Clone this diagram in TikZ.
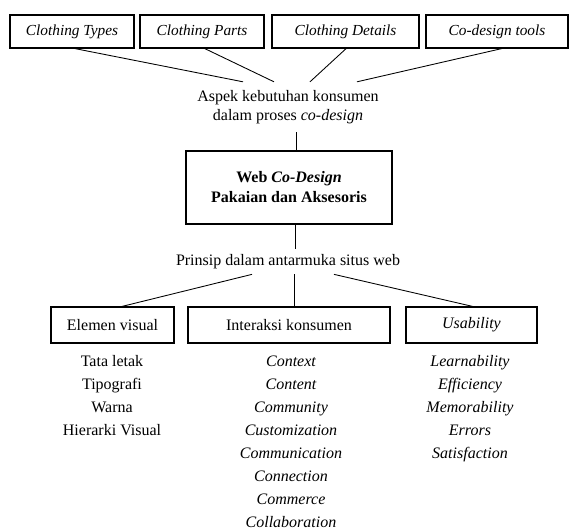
\documentclass[tikz,border=0pt]{standalone}
\usepackage{fontspec}
\setmainfont{Liberation Serif}
\usepackage{tikz}
\usetikzlibrary{positioning,calc}
\tikzset{
  box/.style={draw, line width=0.8pt, align=center, minimum height=24.75pt, inner sep=2pt, font=\fontsize{11.5}{12}\selectfont\itshape},
  sbox/.style={draw, line width=0.8pt, align=center, minimum height=27pt, inner sep=2pt, font=\fontsize{12}{12}\selectfont},
  main/.style={draw, line width=1.4pt, align=center, minimum width=154.5pt, minimum height=54.75pt, font=\fontsize{12}{15}\selectfont\bfseries},
  lbl/.style={align=center, inner sep=4pt, font=\fontsize{12}{14.5}\selectfont},
  lst/.style={align=center, inner sep=0pt, font=\fontsize{12}{17.25}\selectfont},
  ln/.style={line width=0.65pt}
}
\begin{document}
\begin{tikzpicture}[x=0.75pt, y=-0.75pt]
  \useasboundingbox (0,0) rectangle (569,531);
  % top row
  \node[box, minimum width=93pt] (types) at (72,31.5) {Clothing Types};
  \node[box, minimum width=93pt] (parts) at (202,31.5) {Clothing Parts};
  \node[box, minimum width=110.25pt] (details) at (345.5,31.5) {Clothing Details};
  \node[box, minimum width=106.5pt] (tools) at (497,31.5) {Co-design tools};
  \node[lbl, inner ysep=6pt] (aspek) at (288,107) {Aspek kebutuhan konsumen\\dalam proses \textit{co-design}};
  \draw[ln] ([xshift=2pt]types.south) -- ([xshift=-33.75pt]aspek.north);
  \draw[ln] ([xshift=2pt]parts.south) -- ([xshift=-10.5pt]aspek.north);
  \draw[ln] ([xshift=0.5pt]details.south) -- ([xshift=16.5pt]aspek.north);
  \draw[ln] ([xshift=3.75pt]tools.south) -- ([xshift=51.75pt]aspek.north);
  % centre
  \node[main] (web) at (289,187.5) {Web \textit{Co-Design}\\Pakaian dan Aksesoris};
  \draw[ln] ([xshift=6pt]aspek.south) -- ([xshift=6pt]aspek.south |- web.north);
  \node[lbl] (prinsip) at (288,261.5) {Prinsip dalam antarmuka situs web};
  \draw[ln] ([xshift=4.5pt]web.south) -- ([xshift=4.5pt]web.south |- prinsip.north);
  % bottom row
  \node[sbox, minimum width=92.25pt] (elemen) at (112.5,325) {Elemen visual};
  \node[sbox, minimum width=151.5pt] (interaksi) at (289,325) {Interaksi konsumen};
  \node[sbox, minimum width=98.25pt] (usab) at (471.5,325) {\textit{Usability}};
  \draw[ln] ([xshift=-27pt]prinsip.south) -- ([xshift=7pt]elemen.north);
  \draw[ln] ([xshift=5pt]prinsip.south) -- ([xshift=5pt]prinsip.south |- interaksi.north);
  \draw[ln] ([xshift=34.5pt]prinsip.south) -- ([xshift=1pt]usab.north);
  % lists
  \node[lst, anchor=north] (elist) at (112,355) {Tata letak\\Tipografi\\Warna\\Hierarki Visual};
  \node[lst, anchor=north, font=\fontsize{12}{17.25}\selectfont\itshape] (ilist) at (291,356) {Context\\Content\\Community\\Customization\\Communication\\Connection\\Commerce\\Collaboration};
  \node[lst, anchor=north, font=\fontsize{12}{17.25}\selectfont\itshape] (ulist) at (470,355) {Learnability\\Efficiency\\Memorability\\Errors\\Satisfaction};
\end{tikzpicture}
\end{document}
